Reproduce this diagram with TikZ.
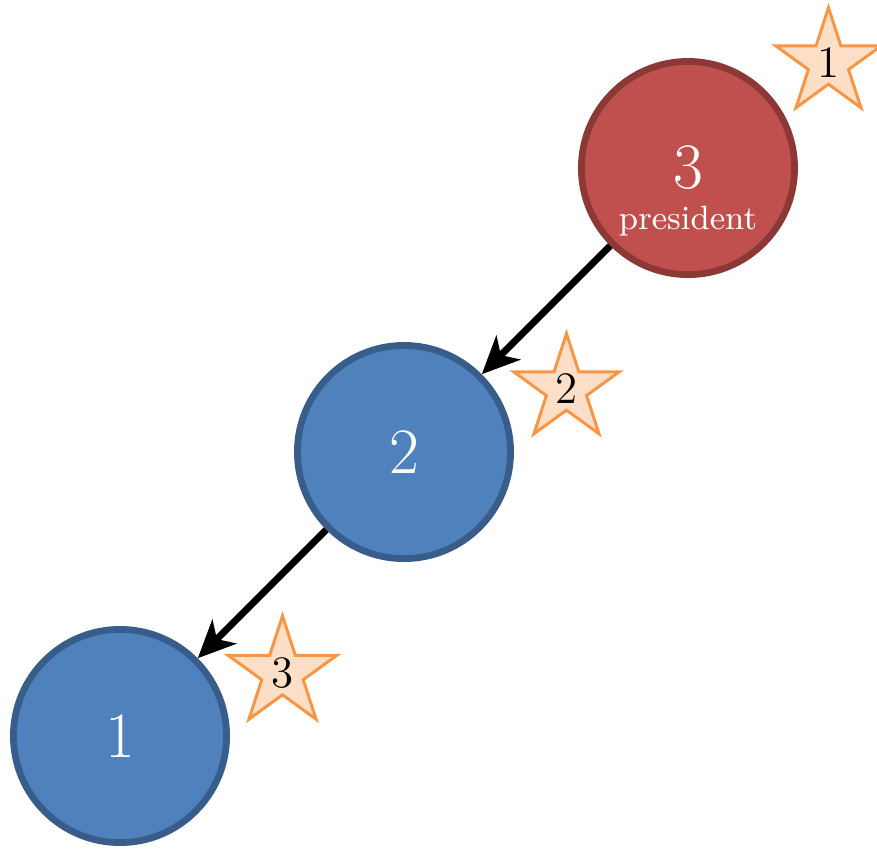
\documentclass[tikz,border=0pt]{standalone}
\usetikzlibrary{arrows.meta,shapes}
\definecolor{presred}{HTML}{C0504D}
\definecolor{presredline}{HTML}{8C3836}
\definecolor{membblue}{HTML}{4F81BD}
\definecolor{membblueline}{HTML}{385D8A}
\definecolor{ordline}{HTML}{F79646}
\tikzstyle{member} = [circle, draw=membblueline, fill=membblue, line width=1.8pt,
    minimum size=2cm, inner sep=0pt, text=white, font=\LARGE]
\tikzstyle{president} = [member, draw=presredline, fill=presred]
\tikzstyle{order} = [star, star points=5, star point ratio=2.618, draw=ordline,
    fill=ordline!30, thick, minimum size=0.96cm, inner sep=0pt, font=\large]

\begin{document}
\begin{tikzpicture}[->,>={Stealth[length=10pt,width=9pt,inset=2.8pt]},line width=1.8pt,
                    node distance=3.767cm]
  \useasboundingbox (0,0) rectangle (8.226,-7.973);

  \node[president] (n3) at (6.453,-1.576) {3};
  \node[member]    (n2) [below left of=n3] {2};
  \node[member]    (n1) [below left of=n2] {1};
  \node[text=white,font=\small,anchor=base] (p3) at ([yshift=-0.58cm]n3.center) {president};

  \node[order,xshift=1.318cm,yshift=0.985cm] (o1) at (n3) {1};
  \node[order,xshift=1.524cm,yshift=0.591cm] (o2) at (n2) {2};
  \node[order,xshift=1.524cm,yshift=0.591cm] (o3) at (n1) {3};

  \path (n3) edge (n2)
        (n2) edge (n1);
\end{tikzpicture}
\end{document}
